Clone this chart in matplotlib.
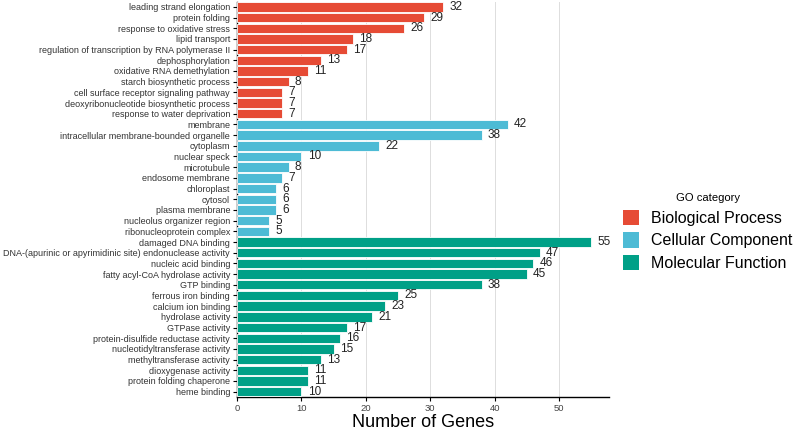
import matplotlib
matplotlib.use("Agg")
import matplotlib.pyplot as plt
from matplotlib.patches import Patch

plt.rcParams['font.family'] = ['Liberation Sans', 'DejaVu Sans']

bp_terms = ["leading strand elongation", "protein folding", "response to oxidative stress",
            "lipid transport", "regulation of transcription by RNA polymerase II",
            "dephosphorylation", "oxidative RNA demethylation", "starch biosynthetic process",
            "cell surface receptor signaling pathway", "deoxyribonucleotide biosynthetic process",
            "response to water deprivation"]
bp_counts = [32, 29, 26, 18, 17, 13, 11, 8, 7, 7, 7]

cc_terms = ["membrane", "intracellular membrane-bounded organelle", "cytoplasm", "nuclear speck",
            "microtubule", "endosome membrane", "chloroplast", "cytosol", "plasma membrane",
            "nucleolus organizer region", "ribonucleoprotein complex"]
cc_counts = [42, 38, 22, 10, 8, 7, 6, 6, 6, 5, 5]

mf_terms = ["damaged DNA binding", "DNA-(apurinic or apyrimidinic site) endonuclease activity",
            "nucleic acid binding", "fatty acyl-CoA hydrolase activity", "GTP binding",
            "ferrous iron binding", "calcium ion binding", "hydrolase activity", "GTPase activity",
            "protein-disulfide reductase activity", "nucleotidyltransferase activity",
            "methyltransferase activity", "dioxygenase activity", "protein folding chaperone",
            "heme binding"]
mf_counts = [55, 47, 46, 45, 38, 25, 23, 21, 17, 16, 15, 13, 11, 11, 10]

categories = ["Biological Process", "Cellular Component", "Molecular Function"]
colors = ["#E64B35", "#4DBBD5", "#00A087"]

terms = bp_terms + cc_terms + mf_terms
counts = bp_counts + cc_counts + mf_counts
cats = [0] * len(bp_terms) + [1] * len(cc_terms) + [2] * len(mf_terms)
n = len(terms)
ypos = [n - 1 - i for i in range(n)]

fig = plt.figure(figsize=(7.94, 4.32), dpi=100)
ax = fig.add_axes([237 / 794, 1 - 397 / 432, (609 - 237) / 794, (397 - 1.5) / 432])

ax.barh(ypos, counts, height=0.88, color=[colors[c] for c in cats],
        edgecolor='white', linewidth=0.6, zorder=3)
for y, v in zip(ypos, counts):
    ax.annotate(str(v), (v, y), xytext=(4.5, 0), textcoords='offset points',
                ha='left', va='center', fontsize=8.5, color='#222222', zorder=4)

ax.set_xlim(0, 55 * 1.05)
ax.set_ylim(-0.5, n - 0.5)
ax.set_yticks(ypos)
ax.set_yticklabels(terms, fontsize=6.5, color='#333333')
ax.set_xticks([0, 10, 20, 30, 40, 50])
ax.tick_params(axis='x', labelsize=6.8, labelcolor='#444444', length=3, width=0.8, pad=2)
ax.tick_params(axis='y', length=3, width=0.8, pad=2)
ax.xaxis.grid(True, color='#DDDDDD', linewidth=0.7, zorder=0)
ax.set_axisbelow(True)
for s in ['top', 'right']:
    ax.spines[s].set_visible(False)
for s in ['left', 'bottom']:
    ax.spines[s].set_linewidth(1.0)
ax.set_xlabel("Number of Genes", fontsize=13, labelpad=0.5)

handles = [Patch(facecolor=colors[i], edgecolor='none', label=categories[i]) for i in range(3)]
leg = fig.legend(handles=handles, title="GO category", loc='center left',
                 bbox_to_anchor=(613 / 794, 1 - 232 / 432), frameon=False,
                 fontsize=11.5, title_fontsize=8.1, handlelength=1.0, handleheight=1.1,
                 handletextpad=0.8, labelspacing=0.42, borderaxespad=0.2)
fig.savefig("out.png", dpi=100)
